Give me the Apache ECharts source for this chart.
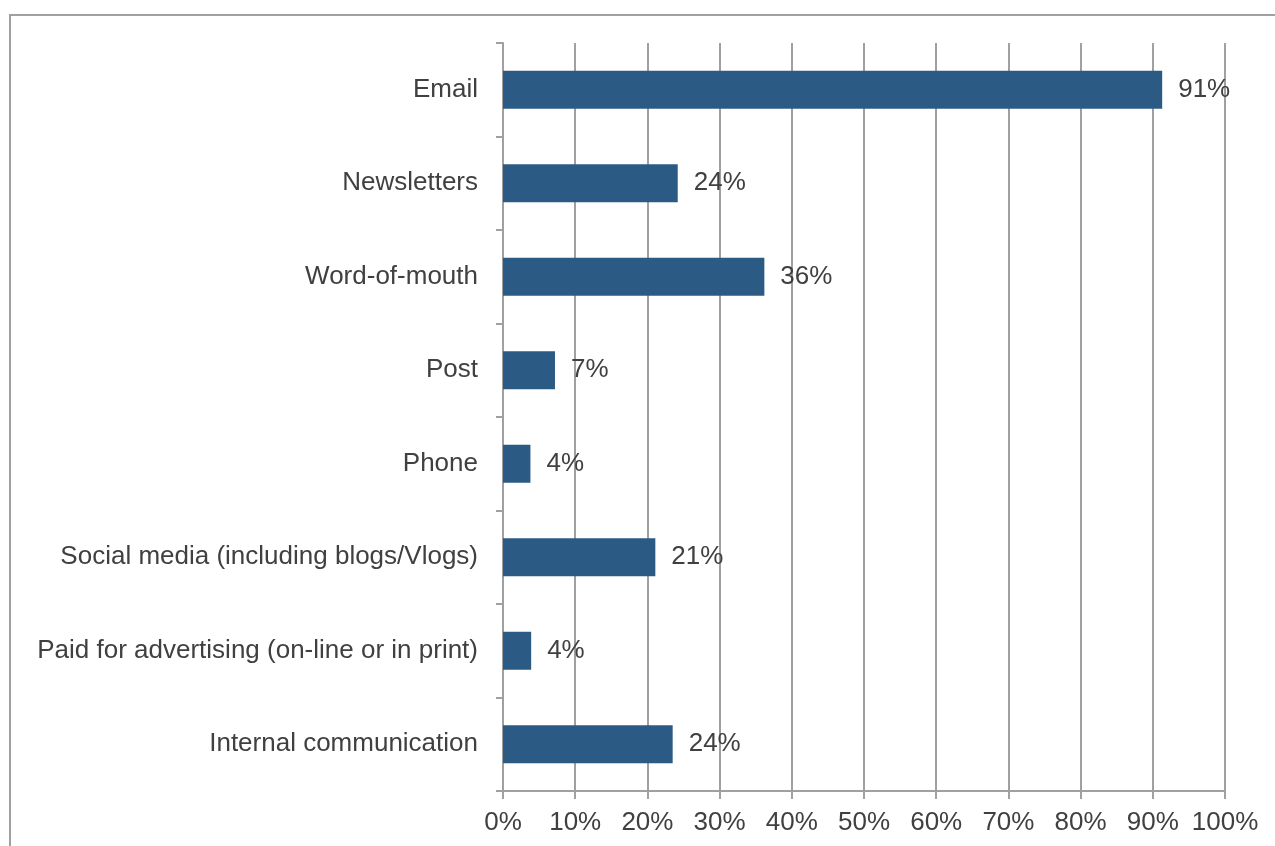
<!DOCTYPE html>
<html>
<head>
<meta charset="utf-8">
<script src="https://cdn.jsdelivr.net/npm/echarts@6/dist/echarts.min.js"></script>
<style>
html,body{margin:0;padding:0;background:#fff;}
#chart{width:1275px;height:846px;}
#frame{position:absolute;left:9px;top:14px;width:1266px;height:832px;border-top:2px solid #A0A0A0;border-left:2px solid #A0A0A0;pointer-events:none;box-sizing:border-box;}
</style>
</head>
<body>
<div id="chart"></div>
<div id="frame"></div>
<script>
const categories = ["Email","Newsletters","Word-of-mouth","Post","Phone","Social media (including blogs/Vlogs)","Paid for advertising (on-line or in print)","Internal communication"];
const values = [91.3, 24.2, 36.2, 7.2, 3.8, 21.1, 3.9, 23.5];
const valueLabels = ["91%","24%","36%","7%","4%","21%","4%","24%"];
const xTicks = {min:0, max:100, interval:10};

const chart = echarts.init(document.getElementById('chart'));
const font = "'Liberation Sans', Arial, sans-serif";
const gray = '#A0A0A0';
const textColor = '#404040';
chart.setOption({
  animation:false,
  grid:{left:503, right:50, top:43, bottom:55, containLabel:false},
  xAxis:{
    type:'value', min:xTicks.min, max:xTicks.max, interval:xTicks.interval,
    axisLine:{show:true, lineStyle:{color:gray, width:2}},
    axisTick:{show:true, length:8, lineStyle:{color:gray, width:2}},
    splitLine:{show:true, lineStyle:{color:gray, width:2}},
    axisLabel:{formatter:'{value}%', color:textColor, fontSize:26, fontFamily:font, margin:19}
  },
  yAxis:{
    type:'category', data:categories, inverse:true,
    axisLine:{show:true, lineStyle:{color:gray, width:2}},
    axisTick:{show:true, length:7, alignWithLabel:false, lineStyle:{color:gray, width:2}},
    axisLabel:{color:textColor, fontSize:26, fontFamily:font, margin:25}
  },
  series:[{
    type:'bar', data:values, barWidth:38,
    itemStyle:{color:'#2B5B84'},
    label:{show:true, position:'right', distance:16, color:textColor, fontSize:26, fontFamily:font,
      formatter:p=>valueLabels[p.dataIndex]}
  }]
});
</script>
</body>
</html>
